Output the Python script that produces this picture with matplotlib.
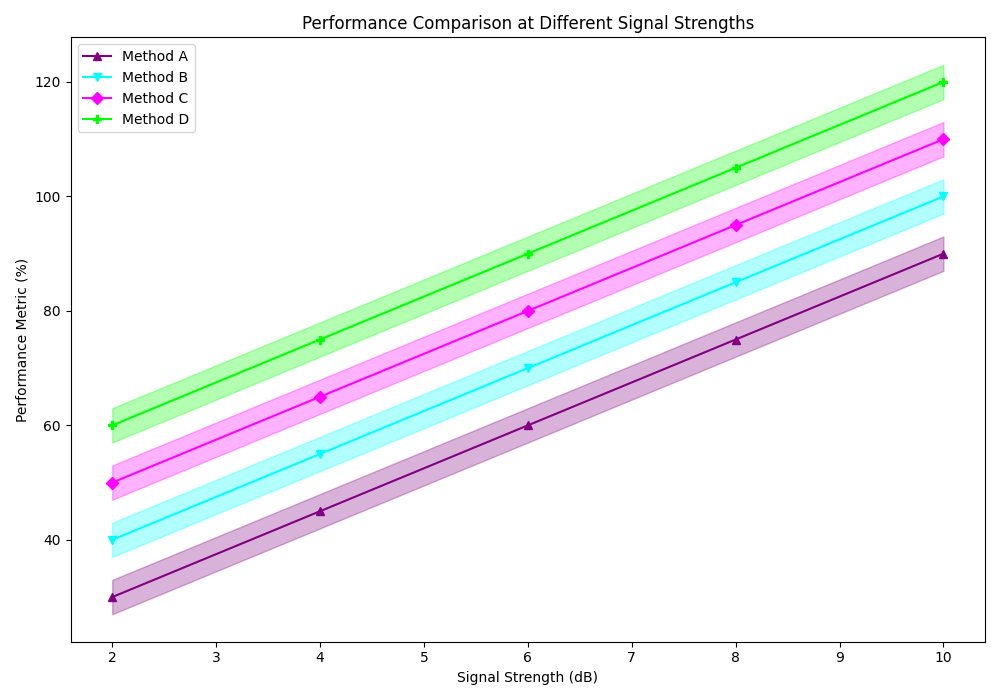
import numpy as np
import matplotlib.pyplot as plt

signal_db = [2, 4, 6, 8, 10]
method_a = [30, 45, 60, 75, 90]
method_b = [40, 55, 70, 85, 100]
method_c = [50, 65, 80, 95, 110]
method_d = [60, 75, 90, 105, 120]
band = 3

series = [
    ("Method A", method_a, "purple", "^"),
    ("Method B", method_b, "cyan", "v"),
    ("Method C", method_c, "magenta", "D"),
    ("Method D", method_d, "lime", "P"),
]

fig, ax = plt.subplots(figsize=(10, 7), dpi=100)
for label, vals, color, marker in series:
    vals = np.array(vals)
    ax.plot(signal_db, vals, color=color, marker=marker, label=label)
    ax.fill_between(signal_db, vals - band, vals + band, color=color, alpha=0.3)

ax.set_title("Performance Comparison at Different Signal Strengths")
ax.set_xlabel("Signal Strength (dB)")
ax.set_ylabel("Performance Metric (%)")
ax.legend(loc="upper left")
plt.tight_layout()
plt.savefig("out.png")
